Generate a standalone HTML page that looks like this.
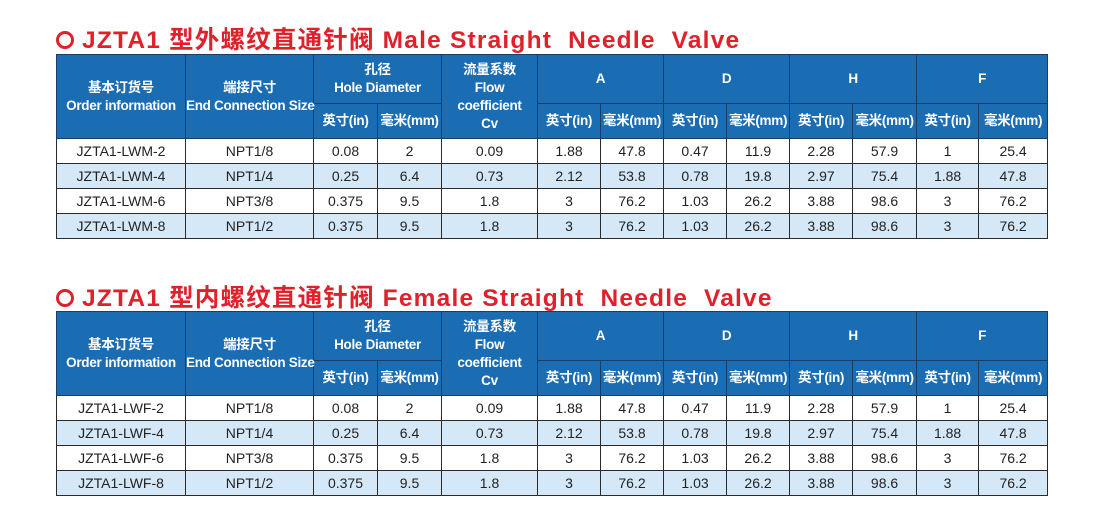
<!DOCTYPE html>
<html><head><meta charset="utf-8"><style>
body{margin:0;width:1101px;height:520px;background:#fff;position:relative;overflow:hidden;font-family:"Liberation Sans","Noto Sans CJK SC",sans-serif;}
.t{position:absolute;left:56px;font-weight:bold;font-size:24.5px;color:#e0202a;white-space:nowrap;letter-spacing:1.2px}
.t .c{display:inline-block;width:12px;height:12px;border:3px solid #e0202a;border-radius:50%;vertical-align:-1px;margin-right:8px}
table{position:absolute;left:56px;border-collapse:collapse;table-layout:fixed;width:991px}
td{border:1px solid #2a2a2a;text-align:center;padding:0;font-size:14px;color:#222;height:24px;white-space:nowrap}
th{background:#1a6cb3;color:#fff;border:1px solid #1a3d66;font-size:13.5px;font-weight:bold;padding:0;line-height:18px;white-space:nowrap;letter-spacing:-0.3px}
tr.h1 th{height:48px}tr.h2 th{height:34px}
tr.b td{background:#d5e8f7}
</style></head><body>
<div class="t" style="top:21px"><span class="c"></span>JZTA1 型外螺纹直通针阀 Male Straight&nbsp; Needle&nbsp; Valve</div>
<table style="top:54px">
<colgroup><col style="width:129px"><col style="width:128px"><col style="width:64px"><col style="width:64px"><col style="width:96px"><col style="width:63px"><col style="width:63px"><col style="width:63px"><col style="width:63px"><col style="width:63px"><col style="width:64px"><col style="width:62px"><col style="width:69px"></colgroup>
<tr class="h1"><th rowspan="2">基本订货号<br>Order information</th><th rowspan="2">端接尺寸<br>End Connection Size</th><th colspan="2">孔径<br>Hole Diameter</th><th rowspan="2">流量系数<br>Flow<br>coefficient<br>Cv</th><th colspan="2">A</th><th colspan="2">D</th><th colspan="2">H</th><th colspan="2">F</th></tr>
<tr class="h2"><th>英寸(in)</th><th>毫米(mm)</th><th>英寸(in)</th><th>毫米(mm)</th><th>英寸(in)</th><th>毫米(mm)</th><th>英寸(in)</th><th>毫米(mm)</th><th>英寸(in)</th><th>毫米(mm)</th></tr>
<tr><td>JZTA1-LWM-2</td><td>NPT1/8</td><td>0.08</td><td>2</td><td>0.09</td><td>1.88</td><td>47.8</td><td>0.47</td><td>11.9</td><td>2.28</td><td>57.9</td><td>1</td><td>25.4</td></tr>
<tr class="b"><td>JZTA1-LWM-4</td><td>NPT1/4</td><td>0.25</td><td>6.4</td><td>0.73</td><td>2.12</td><td>53.8</td><td>0.78</td><td>19.8</td><td>2.97</td><td>75.4</td><td>1.88</td><td>47.8</td></tr>
<tr><td>JZTA1-LWM-6</td><td>NPT3/8</td><td>0.375</td><td>9.5</td><td>1.8</td><td>3</td><td>76.2</td><td>1.03</td><td>26.2</td><td>3.88</td><td>98.6</td><td>3</td><td>76.2</td></tr>
<tr class="b"><td>JZTA1-LWM-8</td><td>NPT1/2</td><td>0.375</td><td>9.5</td><td>1.8</td><td>3</td><td>76.2</td><td>1.03</td><td>26.2</td><td>3.88</td><td>98.6</td><td>3</td><td>76.2</td></tr>
</table>
<div class="t" style="top:279px"><span class="c"></span>JZTA1 型内螺纹直通针阀 Female Straight&nbsp; Needle&nbsp; Valve</div>
<table style="top:311px">
<colgroup><col style="width:129px"><col style="width:128px"><col style="width:64px"><col style="width:64px"><col style="width:96px"><col style="width:63px"><col style="width:63px"><col style="width:63px"><col style="width:63px"><col style="width:63px"><col style="width:64px"><col style="width:62px"><col style="width:69px"></colgroup>
<tr class="h1"><th rowspan="2">基本订货号<br>Order information</th><th rowspan="2">端接尺寸<br>End Connection Size</th><th colspan="2">孔径<br>Hole Diameter</th><th rowspan="2">流量系数<br>Flow<br>coefficient<br>Cv</th><th colspan="2">A</th><th colspan="2">D</th><th colspan="2">H</th><th colspan="2">F</th></tr>
<tr class="h2"><th>英寸(in)</th><th>毫米(mm)</th><th>英寸(in)</th><th>毫米(mm)</th><th>英寸(in)</th><th>毫米(mm)</th><th>英寸(in)</th><th>毫米(mm)</th><th>英寸(in)</th><th>毫米(mm)</th></tr>
<tr><td>JZTA1-LWF-2</td><td>NPT1/8</td><td>0.08</td><td>2</td><td>0.09</td><td>1.88</td><td>47.8</td><td>0.47</td><td>11.9</td><td>2.28</td><td>57.9</td><td>1</td><td>25.4</td></tr>
<tr class="b"><td>JZTA1-LWF-4</td><td>NPT1/4</td><td>0.25</td><td>6.4</td><td>0.73</td><td>2.12</td><td>53.8</td><td>0.78</td><td>19.8</td><td>2.97</td><td>75.4</td><td>1.88</td><td>47.8</td></tr>
<tr><td>JZTA1-LWF-6</td><td>NPT3/8</td><td>0.375</td><td>9.5</td><td>1.8</td><td>3</td><td>76.2</td><td>1.03</td><td>26.2</td><td>3.88</td><td>98.6</td><td>3</td><td>76.2</td></tr>
<tr class="b"><td>JZTA1-LWF-8</td><td>NPT1/2</td><td>0.375</td><td>9.5</td><td>1.8</td><td>3</td><td>76.2</td><td>1.03</td><td>26.2</td><td>3.88</td><td>98.6</td><td>3</td><td>76.2</td></tr>
</table>
</body></html>
